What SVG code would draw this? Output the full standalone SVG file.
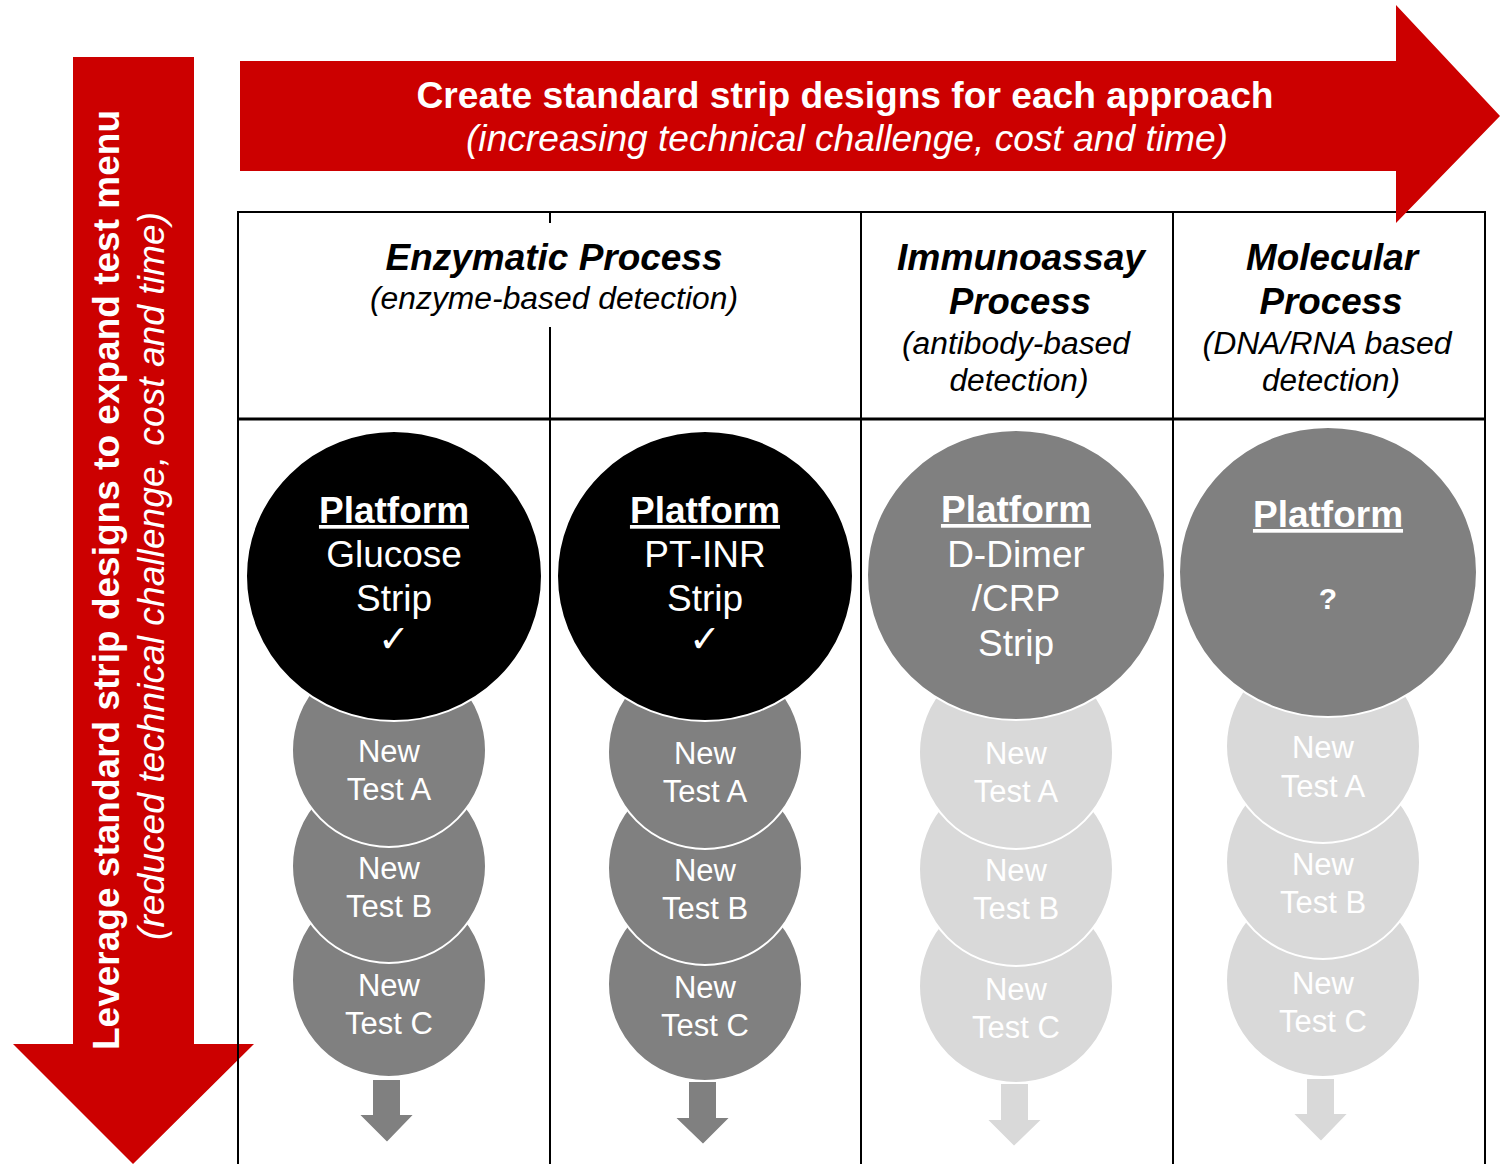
<svg xmlns="http://www.w3.org/2000/svg" width="1500" height="1164" viewBox="0 0 1500 1164">
<style>
.red{fill:#CC0000}
.grid{stroke:#000;stroke-width:2;fill:none}
.t{font-family:"Liberation Sans",Arial,sans-serif;text-anchor:middle}
.w{fill:#fff}
.k{fill:#000}
.b{font-weight:bold}
.i{font-style:italic}
.dk{fill:#000;stroke:#fff;stroke-width:2}
.md{fill:#808080;stroke:#fff;stroke-width:2}
.lt{fill:#D9D9D9;stroke:#fff;stroke-width:2}
.pl{font-size:37px;font-weight:bold;text-decoration:underline}
.ct{font-size:37px}
.sm{font-size:31px}
.ck{font-family:"DejaVu Sans",sans-serif;font-size:38px;text-anchor:middle;fill:#fff}
</style>

<g id="arrow-left">
<polygon class="red" points="73,57 194,57 194,1044 254,1044 133,1164 13,1044 73,1044"/>
<text class="t w b" transform="translate(119,580) rotate(-90)" font-size="36" textLength="940" lengthAdjust="spacingAndGlyphs">Leverage standard strip designs to expand test menu</text>
<text class="t w i" transform="translate(164,576) rotate(-90)" font-size="36" textLength="728" lengthAdjust="spacingAndGlyphs">(reduced technical challenge, cost and time)</text>
</g>

<g id="grid">
<line class="grid" x1="238" y1="212" x2="1485" y2="212"/>
<line class="grid" x1="238" y1="211" x2="238" y2="1164"/>
<line class="grid" x1="1485" y1="211" x2="1485" y2="1164"/>
<line class="grid" x1="550" y1="211" x2="550" y2="223"/>
<line class="grid" x1="550" y1="327" x2="550" y2="1164"/>
<line class="grid" x1="861" y1="211" x2="861" y2="1164"/>
<line class="grid" x1="1173" y1="211" x2="1173" y2="1164"/>
<line x1="238" y1="419" x2="1485" y2="419" stroke="#000" stroke-width="3"/>
</g>

<g id="arrow-top">
<polygon class="red" points="240,61 1396,61 1396,5 1500,116 1396,223 1396,171 240,171"/>
<text class="t w b" x="845" y="108" font-size="36" textLength="857" lengthAdjust="spacingAndGlyphs">Create standard strip designs for each approach</text>
<text class="t w i" x="847" y="151" font-size="36" textLength="762" lengthAdjust="spacingAndGlyphs">(increasing technical challenge, cost and time)</text>
</g>

<g id="header-enzymatic">
<text class="t k b i" x="554" y="270" font-size="36" textLength="337" lengthAdjust="spacingAndGlyphs">Enzymatic Process</text>
<text class="t k i" x="554" y="309" font-size="31" textLength="368" lengthAdjust="spacingAndGlyphs">(enzyme-based detection)</text>
</g>
<g id="header-immunoassay">
<text class="t k b i" x="1021" y="270" font-size="36" textLength="248" lengthAdjust="spacingAndGlyphs">Immunoassay</text>
<text class="t k b i" x="1020" y="314" font-size="36" textLength="142" lengthAdjust="spacingAndGlyphs">Process</text>
<text class="t k i" x="1016" y="354" font-size="31" textLength="228" lengthAdjust="spacingAndGlyphs">(antibody-based</text>
<text class="t k i" x="1019" y="391" font-size="31" textLength="139" lengthAdjust="spacingAndGlyphs">detection)</text>
</g>
<g id="header-molecular">
<text class="t k b i" x="1332" y="270" font-size="36" textLength="172" lengthAdjust="spacingAndGlyphs">Molecular</text>
<text class="t k b i" x="1331" y="314" font-size="36" textLength="143" lengthAdjust="spacingAndGlyphs">Process</text>
<text class="t k i" x="1327" y="354" font-size="31" textLength="249" lengthAdjust="spacingAndGlyphs">(DNA/RNA based</text>
<text class="t k i" x="1331" y="391" font-size="31" textLength="138" lengthAdjust="spacingAndGlyphs">detection)</text>
</g>

<!-- Column 1 -->
<g id="col1-testC"><circle class="md" cx="389" cy="980" r="97"/><text class="t w sm" x="389" y="996">New</text><text class="t w sm" x="389" y="1034">Test C</text></g>
<g id="col1-testB"><circle class="md" cx="389" cy="866" r="97"/><text class="t w sm" x="389" y="879">New</text><text class="t w sm" x="389" y="917">Test B</text></g>
<g id="col1-testA"><circle class="md" cx="389" cy="750" r="97"/><text class="t w sm" x="389" y="762">New</text><text class="t w sm" x="389" y="800">Test A</text></g>
<g id="col1-platform"><ellipse class="dk" cx="394" cy="576" rx="148" ry="145"/>
<text class="t w pl" x="394" y="523">Platform</text>
<text class="t w ct" x="394" y="567">Glucose</text>
<text class="t w ct" x="394" y="611">Strip</text>
<text class="ck" x="394" y="652">✓</text></g>

<!-- Column 2 -->
<g id="col2-testC"><circle class="md" cx="705" cy="984" r="97"/><text class="t w sm" x="705" y="998">New</text><text class="t w sm" x="705" y="1036">Test C</text></g>
<g id="col2-testB"><circle class="md" cx="705" cy="868" r="97"/><text class="t w sm" x="705" y="881">New</text><text class="t w sm" x="705" y="919">Test B</text></g>
<g id="col2-testA"><circle class="md" cx="705" cy="752" r="97"/><text class="t w sm" x="705" y="764">New</text><text class="t w sm" x="705" y="802">Test A</text></g>
<g id="col2-platform"><ellipse class="dk" cx="705" cy="576" rx="148" ry="145"/>
<text class="t w pl" x="705" y="523">Platform</text>
<text class="t w ct" x="705" y="567">PT-INR</text>
<text class="t w ct" x="705" y="611">Strip</text>
<text class="ck" x="705" y="652">✓</text></g>

<!-- Column 3 -->
<g id="col3-testC"><circle class="lt" cx="1016" cy="986" r="97"/><text class="t w sm" x="1016" y="1000">New</text><text class="t w sm" x="1016" y="1038">Test C</text></g>
<g id="col3-testB"><circle class="lt" cx="1016" cy="869" r="97"/><text class="t w sm" x="1016" y="881">New</text><text class="t w sm" x="1016" y="919">Test B</text></g>
<g id="col3-testA"><circle class="lt" cx="1016" cy="752" r="97"/><text class="t w sm" x="1016" y="764">New</text><text class="t w sm" x="1016" y="802">Test A</text></g>
<g id="col3-platform"><ellipse class="md" cx="1016" cy="575" rx="149" ry="145"/>
<text class="t w pl" x="1016" y="522">Platform</text>
<text class="t w ct" x="1016" y="567">D-Dimer</text>
<text class="t w ct" x="1016" y="611">/CRP</text>
<text class="t w ct" x="1016" y="656">Strip</text></g>

<!-- Column 4 -->
<g id="col4-testC"><circle class="lt" cx="1323" cy="980" r="97"/><text class="t w sm" x="1323" y="994">New</text><text class="t w sm" x="1323" y="1032">Test C</text></g>
<g id="col4-testB"><circle class="lt" cx="1323" cy="862" r="97"/><text class="t w sm" x="1323" y="875">New</text><text class="t w sm" x="1323" y="913">Test B</text></g>
<g id="col4-testA"><circle class="lt" cx="1323" cy="746" r="97"/><text class="t w sm" x="1323" y="758">New</text><text class="t w sm" x="1323" y="797">Test A</text></g>
<g id="col4-platform"><ellipse class="md" cx="1328" cy="572" rx="149" ry="145"/>
<text class="t w pl" x="1328" y="527">Platform</text>
<text class="t w b" x="1328" y="609" font-size="30">?</text></g>

<g id="connectors">
<polygon class="md" stroke-width="1" points="372,1079 401,1079 401,1114 415,1114 387,1143 358,1114 372,1114"/>
<polygon class="md" stroke-width="1" points="688,1081 717,1081 717,1117 731,1117 703,1145 674,1117 688,1117"/>
<polygon class="lt" stroke-width="1" points="1000,1083 1029,1083 1029,1119 1043,1119 1014,1147 986,1119 1000,1119"/>
<polygon class="lt" stroke-width="1" points="1306,1078 1335,1078 1335,1113 1349,1113 1321,1142 1292,1113 1306,1113"/>
</g>
</svg>
